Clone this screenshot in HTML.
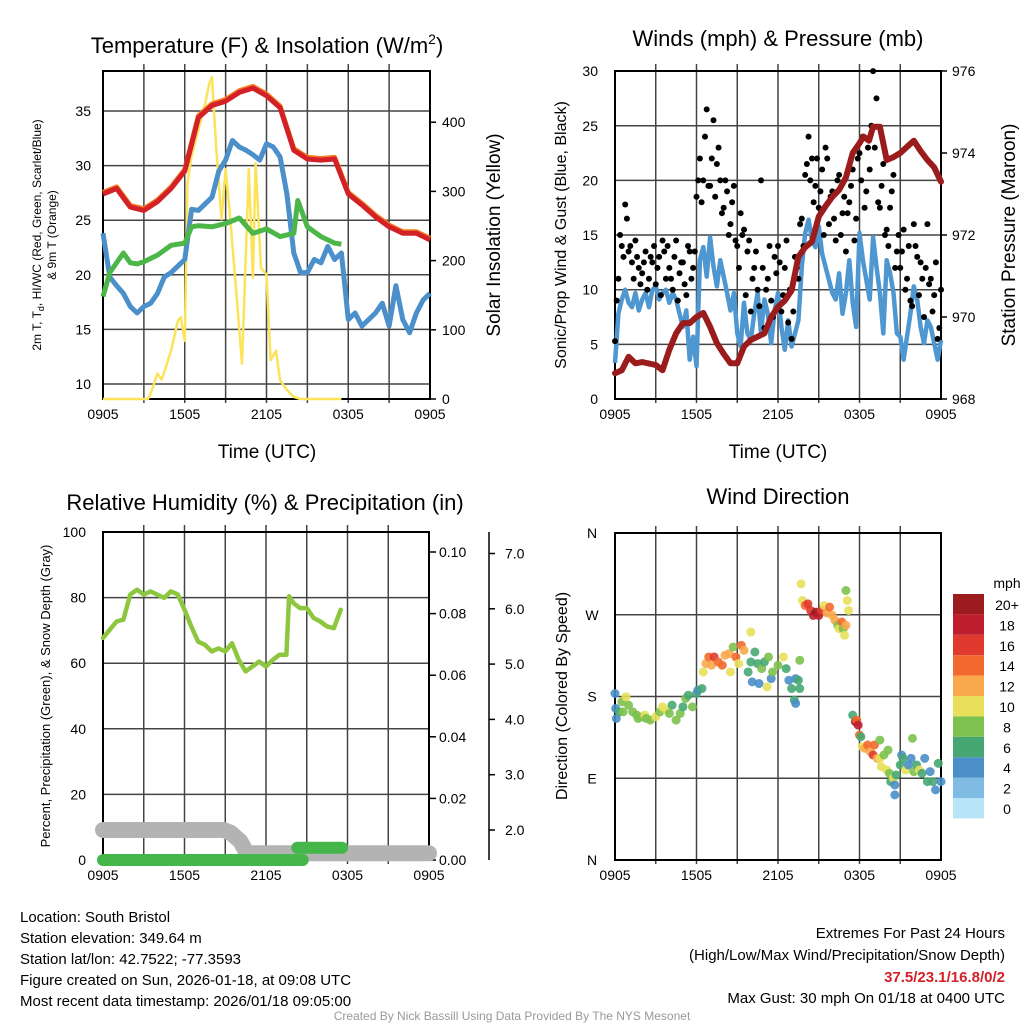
<!DOCTYPE html>
<html><head><meta charset="utf-8"><style>
html,body{margin:0;padding:0;background:#fff;}
svg{display:block;font-family:"Liberation Sans",sans-serif;}
</style></head><body>
<svg id="chart" width="1024" height="1024" viewBox="0 0 1024 1024" xmlns="http://www.w3.org/2000/svg">
<g id="static" fill="#000">
<text x="267" y="53" font-size="22" text-anchor="middle">Temperature (F) &amp; Insolation (W/m<tspan font-size="14" dy="-9">2</tspan><tspan dy="9">)</tspan></text>
<text x="778" y="46" font-size="22" text-anchor="middle">Winds (mph) &amp; Pressure (mb)</text>
<text x="265" y="510" font-size="22" text-anchor="middle">Relative Humidity (%) &amp; Precipitation (in)</text>
<text x="778" y="504" font-size="22" text-anchor="middle">Wind Direction</text>
<text x="267" y="458" font-size="19" text-anchor="middle">Time (UTC)</text>
<text x="778" y="458" font-size="19" text-anchor="middle">Time (UTC)</text>
<text transform="translate(41,235) rotate(-90)" font-size="12" text-anchor="middle">2m T, T<tspan font-size="9" dy="3">d</tspan><tspan dy="-3">, HI/WC (Red, Green, Scarlet/Blue)</tspan></text>
<text transform="translate(56,235) rotate(-90)" font-size="12" text-anchor="middle">&amp; 9m T (Orange)</text>
<text transform="translate(500,235) rotate(-90)" font-size="19" text-anchor="middle">Solar Insolation (Yellow)</text>
<text transform="translate(566,235) rotate(-90)" font-size="16" text-anchor="middle">Sonic/Prop Wind &amp; Gust (Blue, Black)</text>
<text transform="translate(1015,235) rotate(-90)" font-size="19" text-anchor="middle">Station Pressure (Maroon)</text>
<text transform="translate(50,696) rotate(-90)" font-size="13" text-anchor="middle">Percent, Precipitation (Green), &amp; Snow Depth (Gray)</text>
<text transform="translate(567,696) rotate(-90)" font-size="16" text-anchor="middle">Direction (Colored By Speed)</text>
<g font-size="15">
<text x="20" y="922">Location: South Bristol</text>
<text x="20" y="943">Station elevation: 349.64 m</text>
<text x="20" y="964">Station lat/lon: 42.7522; -77.3593</text>
<text x="20" y="985">Figure created on Sun, 2026-01-18, at 09:08 UTC</text>
<text x="20" y="1006">Most recent data timestamp: 2026/01/18 09:05:00</text>
</g>
<g font-size="15" text-anchor="end">
<text x="1005" y="938">Extremes For Past 24 Hours</text>
<text x="1005" y="960">(High/Low/Max Wind/Precipitation/Snow Depth)</text>
<text x="1005" y="982" fill="#d42027" font-weight="bold">37.5/23.1/16.8/0/2</text>
<text x="1005" y="1003">Max Gust: 30 mph On 01/18 at 0400 UTC</text>
</g>
<text x="512" y="1020" font-size="12" fill="#999" text-anchor="middle">Created By Nick Bassill Using Data Provided By The NYS Mesonet</text>
</g>
<g id="dyn"></g>
</svg>
<script>
// ---- Panel 1: temperature & insolation (hours since 0905 UTC) ----
const xTickLabels = ["0905","1505","2105","0305","0905"];
const tempTicks = [10,15,20,25,30,35];
const insTicks = [0,100,200,300,400];
const tempAir = [27.4,27.9,26.2,25.9,26.7,27.9,29.5,34.4,35.5,35.9,36.7,37.1,36.4,35.3,31.4,30.6,30.5,30.6,27.4,26.4,25.3,24.4,23.8,23.8,23.2];
const dewTimes = [0,0.5,1.5,2,2.5,3,4,5,6,6.5,7,8,9,10,11,12,13,14,14.3,15,16,17,17.5];
const dewPoint = [18.0,20.2,22.0,21.1,21.0,21.2,21.8,22.7,22.9,24.4,24.5,24.4,24.7,25.2,23.8,24.2,23.5,23.8,26.8,24.4,23.5,22.9,22.8];
const windChill = [23.8,19.8,19.0,18.3,17.1,16.5,17.1,17.4,18.3,19.8,20.2,20.8,21.4,26.0,25.9,26.5,27.1,29.5,30.5,32.3,31.7,31.4,31.0,30.5,32.0,31.7,30.8,27.4,22.0,20.2,20.2,21.4,21.1,22.6,21.4,22.0,15.9,16.5,15.3,15.9,16.5,17.4,15.3,19.0,15.9,14.7,16.5,17.7,18.3];
const insTimes = [0,3.3,3.5,4,4.3,4.5,5,5.5,5.7,6,6.2,6.5,7,7.5,7.8,8,8.3,8.7,9,9.3,9.8,10.2,10.7,11,11.2,11.6,12,12.3,12.7,13,13.5,14,14.5,17.5];
const insolation = [0,0,8,37,28,39,70,113,118,84,313,351,389,427,456,465,365,260,332,270,151,51,332,175,341,189,180,56,70,27,13,3,0,0];
// ---- Panel 2: wind & pressure ----
const windTicks = [0,5,10,15,20,25,30];
const presTicks = [968,970,972,974,976];
const windSpeed = [3.3,7.8,9.1,10,8.8,8.4,9.7,8.1,9.1,9.7,8.4,10,10.3,9.1,9.7,10,8.8,9.7,9.1,7.8,6.6,8.1,3.6,5.7,3.0,12.7,13.9,11.2,14.8,12.1,10.3,12.7,11.2,9.7,8.1,9.7,6.0,4.8,8.8,6.0,5.4,7.8,9.7,6.0,9.1,7.8,5.1,8.1,9.7,6.6,4.5,7.2,4.8,6.0,7.2,12.1,15.2,16.4,14.5,13.9,15.8,13.3,12.1,10.9,9.7,9.1,11.5,7.8,9.7,12.7,8.8,6.6,15.2,12.7,10.9,9.1,14.8,12.1,9.7,6.0,12.7,11.5,9.7,6.0,5.7,3.6,5.7,7.8,10.3,9.1,6.6,5.1,7.2,6.6,5.1,3.6,5.4];
const gustA = [5.3,11,14,17.8,13.5,12.5,14.5,12,11.5,13.5,11,12.5,10.5,13,14.5,11,12,10,14.5,11.5,12.5,9.5,13.5,12,18.5,22,20,26.5,19.5,25.5,21.5,20,17.5,19,16,19.5,14,17,15.5,13.5,8,12,10,20,6.5,11,9,13,14,8,12,7,5.5,13,11,16.5,20.5,24,22,19.5,17.5,21,23,16,19,14.5,20.5,17,13.5,18,21,16.5,22.5,24,19,21,30,27.5,17.5,21.5,15.5,17.5,20.5,13.5,12,15.5,11,9,16,13,12.5,7.5,16,11,9.5,5.5,10];
const gustB = [9,15,13,16.5,14,11,13,10.5,12.5,10,13,14,12,9.5,13.5,14,11,13,9,12.5,10.5,14,11,13.5,20,18,24,19.5,22,18.5,23,17,20,15,18,14.5,12,15,9.5,14.5,11,13.5,8.5,12,10,14,7.5,11.5,12.5,9.5,14.5,10,8,12,16,14,21.5,20,18,22,19,15,22,18.5,16.5,20,15,18.5,17,19.5,14.5,22,20,17.5,23,25,23,18,19.5,15,14,19,12,15,13.5,10,14,8.5,14,9.5,11,12,10.5,8,12.5,6.5];
const presTimes = [0,0.5,1,1.5,2,3,3.5,4,4.5,5,5.5,6,6.5,7,7.5,8,8.5,9,9.5,10,11,11.5,12,12.5,13,13.5,14,14.5,15,15.5,16,16.5,17,17.5,18,18.3,18.7,19,19.5,20,20.5,21,21.5,22,22.5,23,23.5,24];
const pressure = [968.63,968.7,969.03,968.87,968.9,968.83,968.7,969.2,969.6,969.85,969.85,970.0,970.1,969.76,969.36,969.1,968.87,968.87,969.28,969.44,969.6,970.0,970.25,970.4,970.65,971.47,971.7,971.84,972.45,972.7,972.93,973.1,973.4,974.0,974.24,974.4,974.3,974.64,974.64,973.83,973.9,974.0,974.15,974.3,974.05,973.83,973.65,973.3];
// ---- Panel 3: RH, precip, snow ----
const rhTicks = [0,20,40,60,80,100];
const precipTicks = ["0.00","0.02","0.04","0.06","0.08","0.10"];
const snowTicks = ["2.0","3.0","4.0","5.0","6.0","7.0"];
const rhTimes = [0,0.5,1,1.5,2,2.5,3,3.5,4,4.5,5,5.5,6,6.5,7,7.5,8,8.5,9,9.5,10,10.5,11,11.5,12,12.5,13,13.5,13.7,14,14.5,15,15.5,16,16.5,17,17.5];
const relHum = [67.7,70.2,72.7,73.3,80.9,82.4,80.9,81.9,80.9,79.9,81.9,81,76.3,71.2,66.6,65.6,63.6,64.5,63.6,66.1,61,57.5,59,60.5,59,61,62.6,62.6,80.4,78.4,76.8,76.8,73.8,72.7,71.2,70.7,76.3];
const snowTimes = [0,8.9,9.4,10.1,10.6,24];
const snowDepth = [2.0,2.0,1.95,1.8,1.58,1.58];
const precipTimesA = [0,14.7];
const precipA = [0,0];
const precipTimesB = [14.3,17.6];
const precipB = [0.004,0.004];
// ---- Panel 4: wind direction ----
const dirLabels = ["N","E","S","W","N"];
const speedBins = ["0","2","4","6","8","10","12","14","16","18","20+"];
const speedColors = ["#b7e4f7","#7fbbe3","#4a8fc8","#47a772","#7dc14e","#e8e05a","#f9a94b","#f26a2e","#e03a2e","#be1e2d","#9b1b1e"];
const dirTime = [0,0.05,0.1,0.3,0.5,0.6,0.8,1,1.3,1.6,1.7,2,2.2,2.3,2.6,3,3.3,3.5,3.8,4,4.2,4.5,4.8,5,5.2,5.4,5.7,6,6.1,6.4,
6.5,6.7,6.9,7.1,7.3,7.6,7.9,8.1,8.4,8.5,8.7,8.9,9.1,9.3,9.5,9.8,10,10,10.1,10.3,10.5,10.6,10.8,11,11.2,11.3,11.5,11.6,12,12.4,12.6,12.8,13,13.2,13.3,13.3,13.5,13.6,13.6,
13.7,13.8,14,14.2,14.4,14.6,14.8,15,15.2,15.4,15.6,15.8,16,16.2,16.4,16.5,16.7,16.8,16.9,17,17,17.1,17.2,
17.5,17.7,17.8,17.9,18,18.1,18.2,18.4,18.6,18.8,19,19.1,19.3,19.5,19.5,19.6,19.8,20,20.1,20.2,20.3,20.5,20.6,20.6,20.7,21,21.1,21.2,21.4,21.6,21.8,21.9,22,22.2,22.4,22.6,22.8,23,23.2,23.4,23.6,23.8,24];
const dirDeg = [183.3,166.8,155.8,163.1,174.1,163.1,179.6,170.5,163.1,159.5,155.8,157.7,159.5,155.8,154,157.7,163.1,168.6,165,161.3,170.5,154,161.3,168.6,177.8,181.4,168.6,183.3,186.9,188.8,
207,216.2,223.5,214.4,223.5,218,214.4,225.4,227.2,207,234.5,223.5,216.2,236.3,230.8,207,218,251,196.1,229,216.2,194.3,210.7,218,190.6,223.5,199.7,207,214.4,223.5,210.7,197.9,188.8,176,172.3,199.7,197.9,219.9,188.8,
304,285.7,280.2,282,274.7,269.3,272.9,269.3,274.7,280.2,272,278.4,269.3,263.8,258.3,254.6,262,254.6,247.3,296.7,258.3,285.7,274.7,
159.5,152.2,154,148.5,137.5,135.7,124.7,122.9,126.6,119.2,115.6,126.6,111.9,111.9,132,102.8,115.6,99.1,121,95.5,86.3,90,82.6,71.7,93.6,104.6,115.6,111.9,99.1,104.6,111.9,133.9,97.3,104.6,99.1,95.5,111.9,86.3,97.3,86.3,77.2,106.4,86.3];
const dirSpeed = [4,4,4,6,8,8,10,8,8,8,8,8,10,8,8,10,8,10,10,8,6,8,8,6,8,6,8,6,4,6,
10,12,14,12,16,14,14,12,12,10,8,14,10,14,12,6,6,10,4,6,6,4,8,6,10,8,4,8,8,10,6,4,6,6,4,4,6,8,6,
10,10,14,16,16,18,20,18,16,10,12,14,12,12,8,10,14,8,10,8,12,10,10,
6,20,14,18,14,6,10,12,14,12,16,14,12,10,8,10,8,10,8,8,6,10,4,4,6,6,4,6,10,4,4,8,8,6,10,6,4,6,4,6,4,6,4];

// ---- scales ----
const X1 = h => 103 + h * 327 / 24;
const yTemp = v => 384 - (v - 10) * 10.92;
const yIns = w => 399 - w * 0.692;
const X2 = h => 615 + h * 326 / 24;
const yWind = v => 399 - v * 10.93;
const yPres = p => 399 - (p - 968) * 41.0;
const X3 = h => 103 + h * 326 / 24;
const yRH = v => 860 - v * 3.28;
const yPrecip = v => 860 - v * 3080;
const ySnow = v => 830 - (v - 2) * 55.3;
const yDir = d => 860 - d * 327 / 360;

const NS = "http://www.w3.org/2000/svg";
const root = document.getElementById("dyn");
function mk(tag, attrs, parent) {
  const e = document.createElementNS(NS, tag);
  for (const k in attrs) e.setAttribute(k, attrs[k]);
  (parent || root).appendChild(e);
  return e;
}
function pathFrom(xs, ys) {
  return xs.map((x, i) => (i ? "L" : "M") + x.toFixed(1) + "," + ys[i].toFixed(1)).join("");
}
function label(x, y, txt, anchor, size, name) {
  const t = mk("text", {x: x, y: y, "font-size": size || 14, "text-anchor": anchor || "middle"});
  t.textContent = txt;
  
  
  return t;
}
function frame(x0, x1, y0, y1, X, hY, name) {
  const g = mk("g", {});
  
  
  for (let h = 3; h < 24; h += 3) {
    const gl = mk("line", {x1: X(h), x2: X(h), y1: y0 - 7, y2: y1 + 4, stroke: "#444", "stroke-width": 1.5}, g);
    
    
  }
  hY.forEach(y => {
    const hl = mk("line", {x1: x0, x2: x1, y1: y, y2: y, stroke: "#444", "stroke-width": 1.5}, g);
    
    
  });
  const box = mk("rect", {x: x0, y: y0, width: x1 - x0, height: y1 - y0, fill: "none", stroke: "#000", "stroke-width": 2}, g);
  
  
  xTickLabels.forEach((s, i) => {
    label(X(i * 6), y1 + 20, s, "middle", 14, "x-tick-label");
  });
}

// ===== Panel 1 =====
frame(103, 430, 71, 399, X1, tempTicks.map(yTemp), "temperature-plot-frame");
tempTicks.forEach(v => label(91, yTemp(v) + 5, String(v), "end", 14, "temperature-tick-label"));
insTicks.forEach(v => {
  const tk = mk("line", {x1: 430, x2: 436, y1: yIns(v), y2: yIns(v), stroke: "#000", "stroke-width": 1.5});
  
  
  label(442, yIns(v) + 5, String(v), "start", 14, "insolation-tick-label");
});
const insLine = mk("path", {d: pathFrom(insTimes.map(X1), insolation.map(yIns)), fill: "none", stroke: "#fbe35a", "stroke-width": 2.5, "stroke-linejoin": "round"});


const hrs = tempAir.map((_, i) => i);
const t9 = mk("path", {d: pathFrom(hrs.map(X1), tempAir.map(v => yTemp(v + 0.15))), fill: "none", stroke: "#f47b20", "stroke-width": 5, "stroke-linejoin": "round"});


const wcLine = mk("path", {d: pathFrom(windChill.map((_, i) => X1(i * 24 / (windChill.length - 1))), windChill.map(yTemp)), fill: "none", stroke: "#4b8fcb", "stroke-width": 5, "stroke-linejoin": "round"});


const dpLine = mk("path", {d: pathFrom(dewTimes.map(X1), dewPoint.map(yTemp)), fill: "none", stroke: "#4cb748", "stroke-width": 5, "stroke-linejoin": "round"});


const tLine = mk("path", {d: pathFrom(hrs.map(X1), tempAir.map(yTemp)), fill: "none", stroke: "#d42027", "stroke-width": 5, "stroke-linejoin": "round"});



// ===== Panel 2 =====
frame(615, 941, 71, 399, X2, windTicks.slice(1, 6).map(yWind), "wind-plot-frame");
windTicks.forEach(v => label(598, yWind(v) + 5, String(v), "end", 14, "wind-tick-label"));
presTicks.forEach(v => {
  const tk = mk("line", {x1: 941, x2: 947, y1: yPres(v), y2: yPres(v), stroke: "#000", "stroke-width": 1.5});
  
  
  label(952, yPres(v) + 5, String(v), "start", 14, "pressure-tick-label");
});
const wLine = mk("path", {d: pathFrom(windSpeed.map((_, i) => X2(i * 24 / (windSpeed.length - 1))), windSpeed.map(yWind)), fill: "none", stroke: "#4f97d1", "stroke-width": 4.5, "stroke-linejoin": "round"});


gustA.forEach((v, i) => {
  const c = mk("circle", {cx: X2(i * 0.25), cy: yWind(v), r: 3, fill: "#000"});
  
  
});
gustB.forEach((v, i) => {
  const c = mk("circle", {cx: X2(i * 0.25 + 0.125), cy: yWind(v), r: 3, fill: "#000"});
  
  
});
const pLine = mk("path", {d: pathFrom(presTimes.map(X2), pressure.map(yPres)), fill: "none", stroke: "#9b1c1c", "stroke-width": 6, "stroke-linejoin": "round", "stroke-linecap": "round"});



// ===== Panel 3 =====
frame(103, 429, 532, 860, X3, rhTicks.slice(1, 5).map(yRH), "humidity-plot-frame");
rhTicks.forEach(v => label(86, yRH(v) + 5, String(v), "end", 14, "humidity-tick-label"));
precipTicks.forEach(s => {
  const y = yPrecip(parseFloat(s));
  const tk = mk("line", {x1: 429, x2: 436, y1: y, y2: y, stroke: "#000", "stroke-width": 1.5});
  
  
  label(439, y + 5, s, "start", 14, "precip-tick-label");
});
const snAxis = mk("line", {x1: 489, x2: 489, y1: 532, y2: 860, stroke: "#000", "stroke-width": 1.5});


snowTicks.forEach(s => {
  const y = ySnow(parseFloat(s));
  const tk = mk("line", {x1: 489, x2: 495, y1: y, y2: y, stroke: "#000", "stroke-width": 1.5});
  
  
  label(505, y + 5, s, "start", 14, "snow-tick-label");
});
const snLine = mk("path", {d: pathFrom(snowTimes.map(X3), snowDepth.map(ySnow)), fill: "none", stroke: "#b3b3b3", "stroke-width": 16, "stroke-linejoin": "round", "stroke-linecap": "round"});


const prA = mk("path", {d: pathFrom(precipTimesA.map(X3), precipA.map(yPrecip)), fill: "none", stroke: "#45b649", "stroke-width": 12, "stroke-linecap": "round"});


const prB = mk("path", {d: pathFrom(precipTimesB.map(X3), precipB.map(yPrecip)), fill: "none", stroke: "#45b649", "stroke-width": 12, "stroke-linecap": "round"});


const rhLine = mk("path", {d: pathFrom(rhTimes.map(X3), relHum.map(yRH)), fill: "none", stroke: "#8dc63f", "stroke-width": 4.5, "stroke-linejoin": "round", "stroke-linecap": "round"});



// ===== Panel 4 =====
frame(615, 941, 533, 860, X2, [90, 180, 270].map(yDir), "direction-plot-frame");
dirLabels.forEach((s, i) => label(592, yDir(i * 90) + 5, s, "middle", 14, "direction-tick-label"));
dirTime.forEach((t, i) => {
  const bin = Math.min(10, Math.floor(dirSpeed[i] / 2));
  const c = mk("circle", {cx: X2(t), cy: yDir(dirDeg[i]), r: 4.5, fill: speedColors[bin], "fill-opacity": 0.9});
  
  
});
label(1007, 588, "mph", "middle", 14, "colorbar-title");
speedBins.forEach((s, i) => {
  const k = speedBins.length - 1 - i;
  const r = mk("rect", {x: 953, y: 594 + k * 20.4, width: 31, height: 20.4, fill: speedColors[i]});
  
  
  label(1007, 594 + k * 20.4 + 16, s, "middle", 14, "colorbar-label");
});
</script>
</body></html>
